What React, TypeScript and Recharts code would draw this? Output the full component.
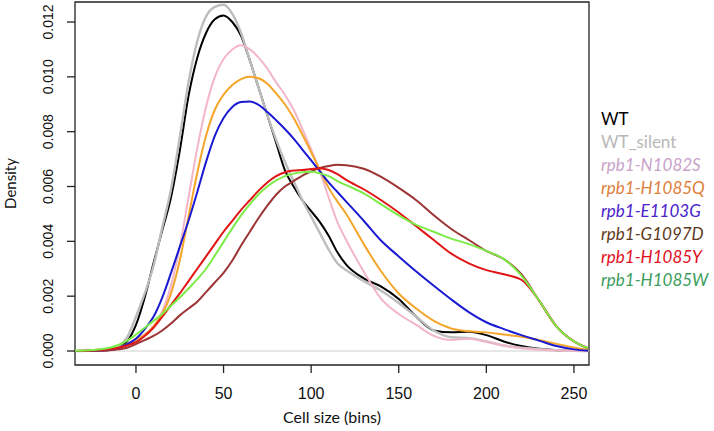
import React from 'react';
import {
  LineChart,
  Line,
  XAxis,
  YAxis,
  Legend,
  ReferenceLine,
  ReferenceArea,
} from 'recharts';

// cell size (bins) where the density curves were read
const cellSize = [
  -35, -25, -15, -10, -5, 0, 5, 10, 15, 20, 25, 30, 35, 40, 45, 50, 55, 60, 65, 70, 75, 80, 85, 90, 95,
  100, 105, 110, 115, 120, 130, 140, 150, 160, 170, 180, 190, 200, 210, 220, 230, 240, 250, 258,
];

// densities, in units of 1e-3
const wt = [
  0, 0.02, 0.06, 0.12, 0.35, 0.95, 1.95, 3.2, 4.4, 5.6, 7.3, 9.3, 10.7, 11.6, 12.1, 12.24, 12.0, 11.5, 10.6, 9.6, 8.6, 7.6, 6.6, 6.0, 5.5,
  5.1, 4.7, 4.2, 3.6, 3.15, 2.65, 2.35, 1.9, 1.25, 0.75, 0.68, 0.7, 0.58, 0.35, 0.18, 0.08, 0.03, 0.01, 0,
];
const wtSilent = [
  0, 0.02, 0.08, 0.18, 0.5, 1.25, 2.1, 3.1, 4.5, 5.9, 7.8, 9.8, 11.3, 12.2, 12.55, 12.63, 12.3, 11.6, 10.6, 9.6, 8.6, 7.7, 6.9, 6.2, 5.5,
  4.9, 4.3, 3.7, 3.2, 2.95, 2.55, 2.2, 1.75, 1.25, 0.75, 0.5, 0.47, 0.35, 0.2, 0.12, 0.07, 0.03, 0.01, 0,
];
const n1082s = [
  0, 0.01, 0.04, 0.1, 0.25, 0.45, 0.62, 0.9, 1.45, 2.4, 3.8, 5.6, 7.4, 8.9, 10.0, 10.65, 11.0, 11.15, 11.0, 10.7, 10.3, 9.8, 9.35, 8.8, 8.1,
  7.35, 6.55, 5.6, 4.7, 4.05, 2.9, 1.9, 1.35, 0.95, 0.55, 0.4, 0.45, 0.33, 0.2, 0.1, 0.05, 0.02, 0.01, 0,
];
const h1085q = [
  0, 0.01, 0.04, 0.1, 0.25, 0.42, 0.58, 0.9, 1.35, 2.1, 3.3, 4.9, 6.5, 7.85, 8.8, 9.35, 9.7, 9.92, 10.0, 9.95, 9.75, 9.4, 9.0, 8.5, 7.9,
  7.25, 6.6, 5.95, 5.45, 5.0, 3.9, 2.9, 2.1, 1.55, 1.1, 0.82, 0.72, 0.68, 0.6, 0.52, 0.4, 0.26, 0.13, 0.03,
];
const e1103g = [
  0, 0.01, 0.04, 0.1, 0.25, 0.45, 0.8, 1.25, 1.95, 2.85, 3.8, 4.75, 5.8, 6.9, 7.85, 8.5, 8.9, 9.08, 9.1, 8.98, 8.72, 8.42, 8.1, 7.75, 7.35,
  6.95, 6.55, 6.15, 5.8, 5.45, 4.75, 4.02, 3.45, 2.9, 2.38, 1.88, 1.42, 1.05, 0.8, 0.58, 0.38, 0.18, 0.06, 0.01,
];
const g1097d = [
  0, 0.01, 0.03, 0.06, 0.12, 0.25, 0.4, 0.55, 0.75, 1.0, 1.3, 1.55, 1.8, 2.15, 2.5, 2.85, 3.3, 3.85, 4.35, 4.85, 5.3, 5.7, 6.0, 6.2, 6.4,
  6.55, 6.68, 6.75, 6.79, 6.78, 6.65, 6.35, 5.95, 5.5, 4.95, 4.45, 4.05, 3.65, 3.35, 2.8, 1.85, 0.9, 0.35, 0.1,
];
const h1085y = [
  0, 0.03, 0.08, 0.12, 0.2, 0.32, 0.55, 0.85, 1.25, 1.68, 2.1, 2.55, 3.0, 3.45, 3.9, 4.35, 4.75, 5.15, 5.5, 5.85, 6.15, 6.38, 6.52, 6.58, 6.6,
  6.64, 6.67, 6.6, 6.45, 6.24, 5.9, 5.5, 5.05, 4.55, 4.05, 3.55, 3.2, 2.95, 2.8, 2.6, 1.85, 0.9, 0.35, 0.1,
];
const h1085w = [
  0.01, 0.04, 0.12, 0.22, 0.38, 0.6, 0.85, 1.1, 1.35, 1.65, 1.95, 2.28, 2.62, 3.0, 3.48, 3.98, 4.48, 4.95, 5.35, 5.72, 6.0, 6.22, 6.38, 6.47, 6.52,
  6.54, 6.48, 6.38, 6.2, 6.05, 5.75, 5.35, 4.95, 4.6, 4.35, 4.1, 3.9, 3.65, 3.35, 2.75, 1.85, 0.9, 0.35, 0.1,
];

const xTicks = [0, 50, 100, 150, 200, 250];
const yTicks = [0, 0.002, 0.004, 0.006, 0.008, 0.01, 0.012];
const X_MIN = -34.8;
const X_MAX = 258.6;
const Y_MIN = -0.00051;
const Y_MAX = 0.01273;

const series = [
  { key: 'wt', name: 'WT', values: wt, stroke: '#000000', label: '#000000', italic: false, width: 2 },
  { key: 'wtSilent', name: 'WT_silent', values: wtSilent, stroke: '#bdbdbd', label: '#b8b8b8', italic: false, width: 2.4 },
  { key: 'n1082s', name: 'rpb1-N1082S', values: n1082s, stroke: '#f2b6c8', label: '#c9a3c9', italic: true, width: 2 },
  { key: 'h1085q', name: 'rpb1-H1085Q', values: h1085q, stroke: '#f5a52a', label: '#e0803c', italic: true, width: 2 },
  { key: 'e1103g', name: 'rpb1-E1103G', values: e1103g, stroke: '#1a1ad2', label: '#4b22cc', italic: true, width: 2 },
  { key: 'g1097d', name: 'rpb1-G1097D', values: g1097d, stroke: '#9c3434', label: '#5e3a1c', italic: true, width: 2 },
  { key: 'h1085y', name: 'rpb1-H1085Y', values: h1085y, stroke: '#e01414', label: '#e0101e', italic: true, width: 2 },
  { key: 'h1085w', name: 'rpb1-H1085W', values: h1085w, stroke: '#7cec46', label: '#3c9e5e', italic: true, width: 2 },
];

const data = cellSize.map((x, i) => {
  const row: Record<string, number> = { x };
  series.forEach((s) => {
    row[s.key] = s.values[i] / 1000;
  });
  return row;
});

const XTick = ({ x, y, payload }: any) => (
  <text x={x} y={y + 24} textAnchor="middle" fontSize={16} fontFamily="Liberation Sans" fill="#111">
    {payload.value}
  </text>
);

const YTick = ({ x, y, payload }: any) => (
  <text
    transform={`translate(${x - 12},${y}) rotate(-90)`}
    textAnchor="middle"
    fontSize={14}
    fontFamily="Liberation Sans"
    fill="#111"
  >
    {Number(payload.value).toFixed(3)}
  </text>
);

const YTitle = ({ viewBox }: any) => (
  <text
    transform={`translate(${viewBox.x + 16},${viewBox.y + viewBox.height / 2}) rotate(-90)`}
    textAnchor="middle"
    fontSize={15}
    fontFamily="Lato"
    fill="#111"
  >
    Density
  </text>
);

const LegendList = () => (
  <div style={{ fontFamily: 'Lato', fontSize: 17, lineHeight: '23px' }}>
    {series.map((s) => (
      <div key={s.key} style={{ color: s.label, fontStyle: s.italic ? 'italic' : 'normal', whiteSpace: 'nowrap' }}>
        {s.name}
      </div>
    ))}
  </div>
);

export default function App() {
  return (
    <div style={{ position: 'absolute', left: 0, top: 0, width: 714, height: 431, background: '#fff' }}>
      <LineChart width={714} height={431} data={data} margin={{ top: 2, right: 11, bottom: 0, left: 0 }}>
        <XAxis
          dataKey="x"
          type="number"
          domain={[X_MIN, X_MAX]}
          allowDataOverflow
          ticks={xTicks}
          height={66}
          tickSize={8}
          axisLine={false}
          tickLine={{ stroke: '#222', strokeWidth: 1.3 }}
          tick={<XTick />}
          label={{ value: 'Cell size (bins)', position: 'insideBottom', offset: 8, fontSize: 16, fontFamily: 'Lato', fill: '#111' }}
        />
        <YAxis
          type="number"
          domain={[Y_MIN, Y_MAX]}
          allowDataOverflow
          ticks={yTicks}
          width={75}
          tickSize={8}
          axisLine={false}
          tickLine={{ stroke: '#222', strokeWidth: 1.3 }}
          tick={<YTick />}
          label={<YTitle />}
        />
        <ReferenceLine y={0} stroke="#cfcfcf" strokeWidth={1} />
        {series.map((s) => (
          <Line
            key={s.key}
            type="monotone"
            dataKey={s.key}
            name={s.name}
            stroke={s.stroke}
            strokeWidth={s.width}
            dot={false}
            isAnimationActive={false}
          />
        ))}
        <ReferenceArea x1={X_MIN} x2={X_MAX} y1={Y_MIN} y2={Y_MAX} fill="none" stroke="#222" strokeWidth={1.3} />
        <Legend
          layout="vertical"
          align="right"
          verticalAlign="top"
          content={<LegendList />}
          wrapperStyle={{ left: 601, top: 107, right: 'auto', width: 114 }}
        />
      </LineChart>
    </div>
  );
}
